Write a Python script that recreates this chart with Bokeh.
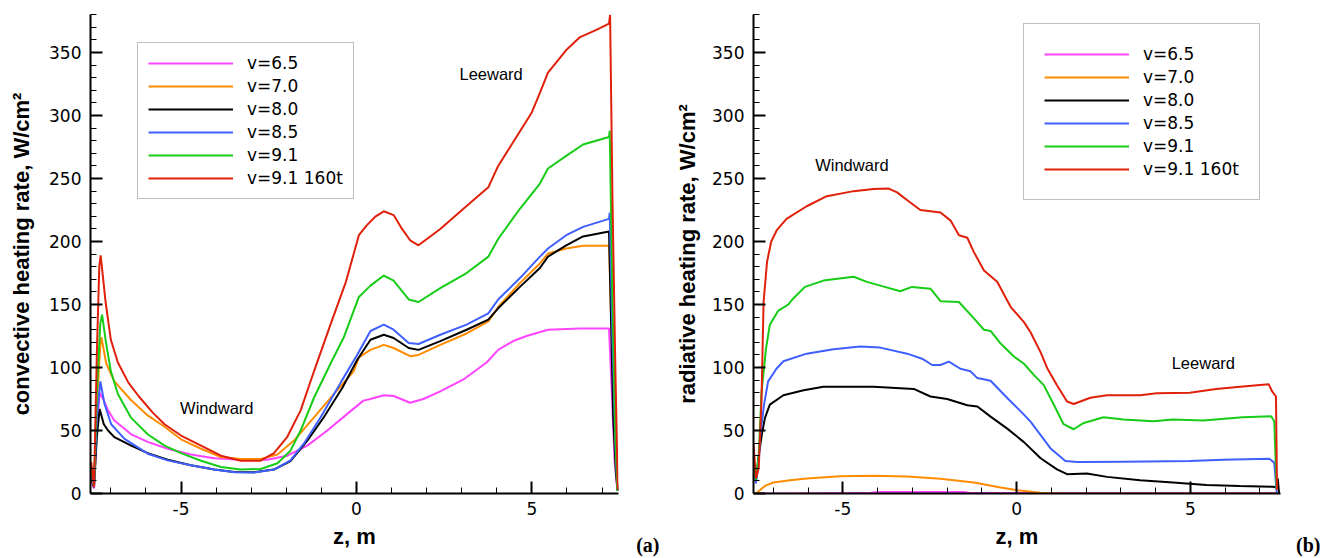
from bokeh.plotting import figure
from bokeh.layouts import row
from bokeh.models import Range1d, FixedTicker, Label, PrintfTickFormatter
from bokeh.embed import file_html
from bokeh.resources import INLINE

# ---------------- data: convective heating rate (panel a) ----------------
conv_z_65 = [-7.56, -7.48, -7.40, -7.32, -7.2, -7.08, -6.9, -6.42, -5.95, -5.38, -4.72, -4.05, -3.3, -2.54, -1.97, -1.4, -0.83, -0.27, 0.2, 0.4, 0.78, 1.06, 1.53, 1.91, 2.39, 3.05, 3.71, 4.04, 4.47, 4.85, 5.46, 6.36, 7.2, 7.28, 7.36, 7.44]
conv_q_65 = [10, 4, 50, 80, 74, 66, 58, 47, 41, 35.5, 31, 28, 26.8, 26.8, 30, 38, 50, 63, 73.7, 75, 78, 77.4, 72, 75, 81, 90.5, 104, 114, 121, 125, 130, 131, 131, 80, 25, 2]

conv_z_70 = [-7.56, -7.48, -7.40, -7.3, -7.27, -7.13, -6.9, -6.42, -5.95, -5.47, -5.0, -4.43, -3.86, -3.3, -2.73, -2.25, -1.78, -1.21, -0.64, -0.08, 0.07, 0.4, 0.78, 1.06, 1.53, 1.77, 2.39, 3.14, 3.76, 4.04, 4.66, 5.23, 5.46, 5.98, 6.46, 7.2, 7.28, 7.36, 7.44]
conv_q_70 = [15, 6, 70, 118, 124, 103, 89, 74, 62, 53, 43, 35.5, 29, 27.4, 27.4, 31, 42, 60.5, 79, 97, 108, 114, 118, 115.5, 109, 110, 118, 127, 136.6, 148, 167, 182.6, 190.5, 194.5, 196.6, 196.6, 120, 40, 2]

conv_z_80 = [-7.56, -7.48, -7.40, -7.32, -7.2, -7.08, -6.9, -6.42, -5.95, -5.38, -4.72, -4.05, -3.48, -2.92, -2.35, -1.88, -1.4, -0.93, -0.4, 0.02, 0.4, 0.78, 1.06, 1.49, 1.77, 2.39, 3.14, 3.76, 4.04, 4.66, 5.23, 5.46, 5.98, 6.46, 7.2, 7.24, 7.32, 7.4, 7.45]
conv_q_80 = [12, 5, 45, 67, 55, 50, 44.7, 38, 32, 26.8, 22.4, 19, 17, 16.8, 19, 25.8, 42, 60.5, 84, 106, 122, 126, 123.4, 115.5, 114, 121, 130, 138, 147, 164, 179, 188, 197, 204, 208, 160, 60, 15, 2]

conv_z_85 = [-7.56, -7.48, -7.40, -7.3, -7.18, -6.99, -6.61, -5.95, -5.38, -4.72, -4.05, -3.48, -2.92, -2.35, -1.88, -1.5, -1.02, -0.45, 0.02, 0.4, 0.78, 1.06, 1.49, 1.77, 2.39, 3.14, 3.76, 4.04, 4.66, 5.23, 5.46, 5.98, 6.46, 7.2, 7.22, 7.3, 7.38, 7.44]
conv_q_85 = [15, 5, 60, 89, 71, 55, 43.4, 31.6, 26.3, 22.4, 19, 16.8, 16.6, 19, 26.3, 39.5, 60.5, 88, 110, 129, 134, 130, 119.5, 118.7, 126, 134, 143, 154, 171, 188, 194.5, 205, 211.6, 218, 223, 120, 40, 2]

conv_z_91 = [-7.56, -7.48, -7.40, -7.3, -7.25, -7.15, -7.0, -6.8, -6.42, -5.95, -5.47, -5.0, -4.43, -3.86, -3.3, -2.73, -2.25, -1.88, -1.59, -1.21, -0.74, -0.36, 0.07, 0.4, 0.78, 1.06, 1.49, 1.77, 2.39, 3.14, 3.76, 4.04, 4.66, 5.23, 5.46, 5.98, 6.46, 7.2, 7.22, 7.3, 7.38, 7.44]
conv_q_91 = [20, 6, 80, 135, 142, 122, 97, 79, 60, 47, 38, 32, 26, 21, 19, 19.5, 24, 34, 50, 76, 103, 124, 156, 165, 173, 169, 154, 152, 163, 175, 188, 202, 226, 246, 258, 268, 277, 283, 288, 150, 45, 2]

conv_z_91t = [-7.56, -7.48, -7.40, -7.33, -7.29, -7.15, -7.0, -6.8, -6.5, -6.2, -5.8, -5.47, -5.0, -4.43, -3.86, -3.3, -2.73, -2.35, -1.97, -1.59, -1.21, -0.74, -0.3, 0.07, 0.3, 0.55, 0.78, 1.06, 1.3, 1.53, 1.77, 2.39, 3.05, 3.76, 4.04, 4.47, 4.99, 5.23, 5.46, 5.98, 6.36, 6.84, 7.2, 7.23, 7.3, 7.38, 7.45]
conv_q_91t = [25, 5, 110, 180, 189, 152, 122, 104, 88, 77, 64, 55, 46, 38, 30, 26, 26, 32, 45, 66, 97, 134, 168, 205, 213, 220, 224, 221, 210, 201, 197, 210, 226, 243, 260, 279, 302, 318, 334, 352, 362, 368, 373, 380, 230, 100, 3]

# ---------------- data: radiative heating rate (panel b) ----------------
rad_z_65 = [-7.5, -4.3, -4.0, -1.5, -1.3, 7.55]
rad_q_65 = [0, 0.3, 1.2, 1.2, 0.3, 0.3]

rad_z_70 = [-7.5, -7.24, -7.0, -6.52, -6.04, -5.08, -4.12, -3.15, -2.19, -1.23, -0.46, 0.02, 0.69, 1.2, 7.55]
rad_q_70 = [0, 6, 8.7, 10.5, 12, 13.7, 14, 13.4, 11.8, 8.7, 4.7, 2.5, 0.6, 0, 0]

rad_z_80 = [-7.57, -7.5, -7.43, -7.33, -7.24, -7.1, -6.71, -6.13, -5.56, -4.12, -2.96, -2.48, -2.0, -1.42, -1.13, -0.75, -0.27, 0.21, 0.69, 1.16, 1.45, 2.02, 2.6, 3.55, 4.5, 5.46, 6.41, 7.37, 7.45, 7.51, 7.55]
rad_q_80 = [15, 10, 28, 47, 60, 70.5, 78, 82, 84.7, 84.7, 83, 77, 75, 70, 69, 61, 51.5, 40.8, 28, 19.2, 15.3, 15.8, 13.2, 10.5, 8.7, 6.8, 6, 5.3, 5, 12, 0]

rad_z_85 = [-7.57, -7.5, -7.42, -7.38, -7.27, -7.15, -6.91, -6.71, -6.04, -5.27, -4.5, -3.92, -3.15, -2.72, -2.43, -2.19, -1.95, -1.62, -1.33, -1.13, -0.75, -0.27, 0.21, 0.4, 0.97, 1.4, 1.74, 3.07, 4.98, 5.94, 7.27, 7.41, 7.48]
rad_q_85 = [20, 8, 25, 45, 70, 89, 99, 105, 111, 114.5, 116.6, 115.8, 111, 107, 102, 102, 104.7, 99, 97, 91.6, 89.5, 75.8, 62.6, 57, 36, 25.8, 25, 25.3, 25.8, 26.8, 27.6, 24.5, 1]

rad_z_91 = [-7.57, -7.5, -7.42, -7.34, -7.21, -7.1, -6.86, -6.57, -6.42, -6.09, -5.56, -4.69, -4.31, -3.92, -3.35, -3.01, -2.48, -2.19, -1.66, -1.23, -0.94, -0.75, -0.46, -0.08, 0.21, 0.5, 0.78, 1.07, 1.35, 1.64, 1.93, 2.5, 3.07, 3.93, 4.5, 5.36, 6.51, 7.32, 7.41, 7.48]
rad_q_91 = [25, 10, 30, 80, 115, 134, 145, 150, 155, 164, 169, 172, 168, 165, 160.5, 164, 162.6, 152.6, 152, 139, 130, 129, 119, 108.7, 103, 94, 86, 70.5, 55, 51, 56, 60.5, 58.7, 57.4, 58.7, 58, 60.5, 61.3, 57.4, 3]

rad_z_91t = [-7.57, -7.5, -7.42, -7.34, -7.28, -7.18, -7.06, -6.9, -6.62, -6.04, -5.46, -4.69, -4.12, -3.68, -3.44, -3.06, -2.77, -2.48, -2.19, -1.9, -1.66, -1.42, -1.23, -0.94, -0.56, -0.17, 0.21, 0.4, 0.69, 0.88, 1.16, 1.45, 1.64, 2.12, 2.6, 3.55, 4.03, 4.98, 5.74, 6.51, 7.25, 7.35, 7.46, 7.49]
rad_q_91t = [40, 12, 20, 74, 152, 184, 200, 209, 218, 228, 236, 240, 241.6, 242, 239, 231, 225, 224, 223, 216.6, 205, 203, 191.6, 177, 168, 148, 136, 128, 112, 99.5, 86, 73, 71, 76, 78, 78, 79.5, 80, 83, 85, 86.8, 81, 77, 3]

labels = ["v=6.5", "v=7.0", "v=8.0", "v=8.5", "v=9.1", "v=9.1 160t"]
colors = ["#ff44ff", "#ff8c00", "#000000", "#3f5fff", "#16cc16", "#e0200a"]

x_major = [-5, 0, 5]
x_minor = [-7, -6, -4, -3, -2, -1, 1, 2, 3, 4, 6, 7]
y_major = [0, 50, 100, 150, 200, 250, 300, 350]
y_minor = list(range(0, 381, 10))

conv_series = [(conv_z_65, conv_q_65), (conv_z_70, conv_q_70), (conv_z_80, conv_q_80),
               (conv_z_85, conv_q_85), (conv_z_91, conv_q_91), (conv_z_91t, conv_q_91t)]
rad_series = [(rad_z_65, rad_q_65), (rad_z_70, rad_q_70), (rad_z_80, rad_q_80),
              (rad_z_85, rad_q_85), (rad_z_91, rad_q_91), (rad_z_91t, rad_q_91t)]


def make_panel(series, xr, ylabel, w, h, mb, tag, tag_xy, notes, leg_loc, leg_pad,
               ylab_standoff, xlab_standoffs):
    p = figure(width=w, height=h, output_backend="svg", toolbar_location=None,
               x_range=Range1d(*xr), y_range=Range1d(0, 380.2),
               min_border_left=mb[0], min_border_right=mb[1],
               min_border_top=mb[2], min_border_bottom=mb[3])
    p.outline_line_color = None
    p.xgrid.visible = False
    p.ygrid.visible = False
    p.background_fill_color = "white"
    p.border_fill_color = "white"

    for (zs, qs), lab, col in zip(series, labels, colors):
        p.line(zs, qs, line_color=col, line_width=2, legend_label=lab)

    p.xaxis.ticker = FixedTicker(ticks=x_major, minor_ticks=x_minor)
    p.yaxis.ticker = FixedTicker(ticks=y_major, minor_ticks=y_minor)
    for ax in (p.xaxis[0], p.yaxis[0]):
        ax.formatter = PrintfTickFormatter(format="%d")
        ax.axis_line_width = 2
        ax.axis_line_color = "black"
        ax.major_tick_in = 12
        ax.major_tick_out = 0
        ax.minor_tick_in = 6
        ax.minor_tick_out = 0
        ax.major_tick_line_width = 2
        ax.minor_tick_line_width = 1
        ax.major_tick_line_color = "black"
        ax.minor_tick_line_color = "black"
        ax.major_label_text_font = "DejaVu Sans"
        ax.major_label_text_font_size = "17px"
        ax.major_label_text_color = "black"
        ax.axis_label_text_font = "Liberation Sans"
        ax.axis_label_text_font_style = "bold"
        ax.axis_label_text_font_size = "22px"
        ax.axis_label_text_color = "black"
    p.xaxis.axis_label = "z, m"
    p.xaxis.major_label_standoff = xlab_standoffs[0]
    p.xaxis.axis_label_standoff = xlab_standoffs[1]
    p.yaxis.axis_label = ylabel
    p.yaxis.major_label_standoff = 9
    p.yaxis.axis_label_standoff = ylab_standoff

    for txt, zx, qy in notes:
        p.add_layout(Label(x=zx, y=qy, text=txt, text_align="center", text_baseline="alphabetic",
                           text_font="Liberation Sans", text_font_size="16.5px", text_color="black"))

    # panel tag lives in the right-hand side panel, drawn below the frame's bottom edge
    p.add_layout(Label(x=tag_xy[0], y=tag_xy[1], x_units="screen", y_units="screen", text=tag,
                       text_align="right", text_baseline="alphabetic",
                       text_font="Liberation Serif", text_font_style="bold",
                       text_font_size="20px", text_color="black"), "right")

    lg = p.legend[0]
    lg.location = leg_loc
    lg.border_line_color = "#7f7f7f"
    lg.border_line_width = 1.5
    lg.background_fill_color = "white"
    lg.background_fill_alpha = 1.0
    lg.glyph_width = 85
    lg.glyph_height = 20
    lg.label_height = 20
    lg.spacing = 3
    lg.padding = leg_pad
    lg.margin = 0
    lg.label_standoff = 14
    lg.label_text_font = "DejaVu Sans"
    lg.label_text_font_size = "17px"
    lg.label_text_color = "black"
    return p


p1 = make_panel(conv_series, (-7.58, 7.47), "convective heating rate, W/cm\u00b2",
                663, 558, (90, 45, 9, 65), "(a)", (41, -51),
                [("Leeward", 3.84, 333), ("Windward", -3.98, 67.6)],
                (47, 294), 10, 12, (8, 6))
p2 = make_panel(rad_series, (-7.57, 7.59), "radiative heating rate, W/cm\u00b2",
                664, 558, (90, 47, 14, 65), "(b)", (40, -51),
                [("Windward", -4.74, 261), ("Leeward", 5.37, 103.6)],
                (270, 293), 20, 9, (8, 6))

layout = row(p1, p2)
open("out.html", "w").write(file_html(layout, INLINE))
